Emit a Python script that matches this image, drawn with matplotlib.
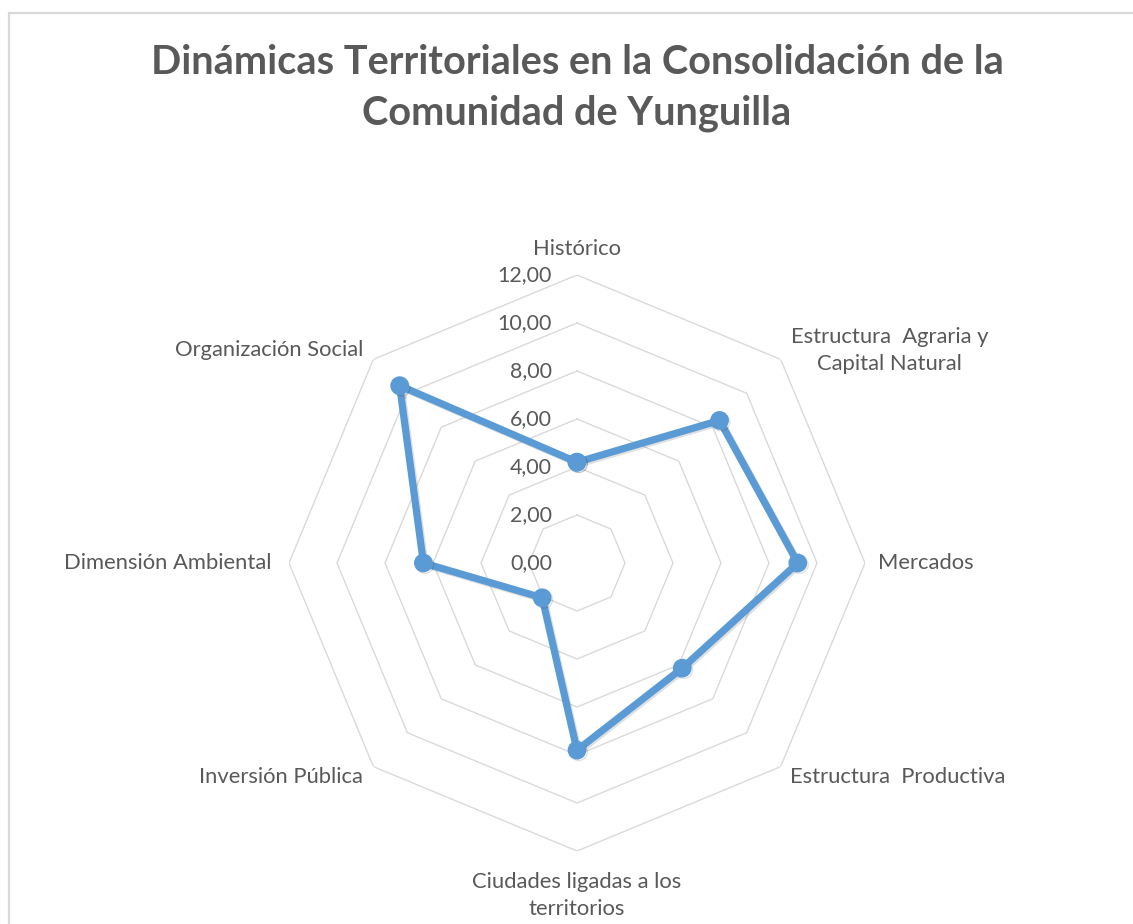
import numpy as np
import matplotlib
matplotlib.use("Agg")
import matplotlib.pyplot as plt
import matplotlib.patheffects as pe
from matplotlib.lines import Line2D

categories = ["Histórico", "Estructura  Agraria y\nCapital Natural", "Mercados",
              "Estructura  Productiva", "Ciudades ligadas a los\nterritorios",
              "Inversión Pública", "Dimensión Ambiental", "Organización Social"]
values = [4.2, 8.4, 9.2, 6.2, 7.8, 2.05, 6.4, 10.45]
rticks = [0, 2, 4, 6, 8, 10, 12]
rtick_labels = ["0,00", "2,00", "4,00", "6,00", "8,00", "10,00", "12,00"]
title = "Dinámicas Territoriales en la Consolidación de la\nComunidad de Yunguilla"

FONT = ["Lato", "DejaVu Sans"]
GRAY = "#595959"
BLUE = "#5b9bd5"

W, H = 1133, 924
fig = plt.figure(figsize=(W / 100, H / 100), dpi=100)
fig.patch.set_facecolor("white")

# chart border (top & left visible)
fig.add_artist(Line2D([9 / W, 9 / W], [0, 1 - 13 / H], transform=fig.transFigure,
                      color="#d9d9d9", lw=1.6))
fig.add_artist(Line2D([9 / W, 1], [1 - 13 / H, 1 - 13 / H], transform=fig.transFigure,
                      color="#d9d9d9", lw=1.6))

cx, cy, R = 577, 563, 288
ax = fig.add_axes([(cx - R) / W, (H - cy - R) / H, 2 * R / W, 2 * R / H], projection="polar")
ax.set_theta_offset(np.pi / 2)
ax.set_theta_direction(-1)
ax.set_ylim(0, 12)
ax.grid(False)
ax.spines["polar"].set_visible(False)
ax.set_xticks([])
ax.set_yticks([])
ax.patch.set_alpha(0)

n = len(categories)
theta = np.arange(n) * 2 * np.pi / n
theta_c = np.append(theta, theta[0])

for r in rticks[1:]:
    ax.plot(theta_c, [r] * (n + 1), color="#d9d9d9", lw=1.0, zorder=1)

vals_c = values + [values[0]]
ax.plot(theta_c, vals_c, color=BLUE, lw=5.2, marker="o", markersize=12.5,
        markerfacecolor=BLUE, markeredgecolor=BLUE, zorder=3, solid_joinstyle="round",
        path_effects=[pe.SimpleLineShadow(offset=(1.2, -1.2), shadow_color="black", alpha=0.12),
                      pe.Normal()])

for r, lab in zip(rticks, rtick_labels):
    ax.annotate(lab, xy=(0, r), xytext=(-25, 0), textcoords="offset pixels",
                ha="right", va="center", fontsize=15.4, color=GRAY, family=FONT)

offsets = [((0, 26), "center", "center"),
           ((10, 9), "left", "center"),
           ((13, 0), "left", "center"),
           ((9, -10), "left", "center"),
           ((0, -21), "center", "top"),
           ((-10, -10), "right", "center"),
           ((-18, 0), "right", "center"),
           ((-10, 9), "right", "center")]
for t, lab, (off, ha, va) in zip(theta, categories, offsets):
    ax.annotate(lab, xy=(t, 12), xytext=off, textcoords="offset pixels",
                ha=ha, va=va, multialignment="center", fontsize=15.8, color=GRAY,
                family=FONT, linespacing=1.42)

fig.text(cx / W, 1 - 88 / H, title, ha="center", va="center", fontsize=28.6,
         fontweight="bold", color=GRAY, family=FONT, linespacing=1.47)

fig.savefig("out.png", dpi=100, facecolor="white")
